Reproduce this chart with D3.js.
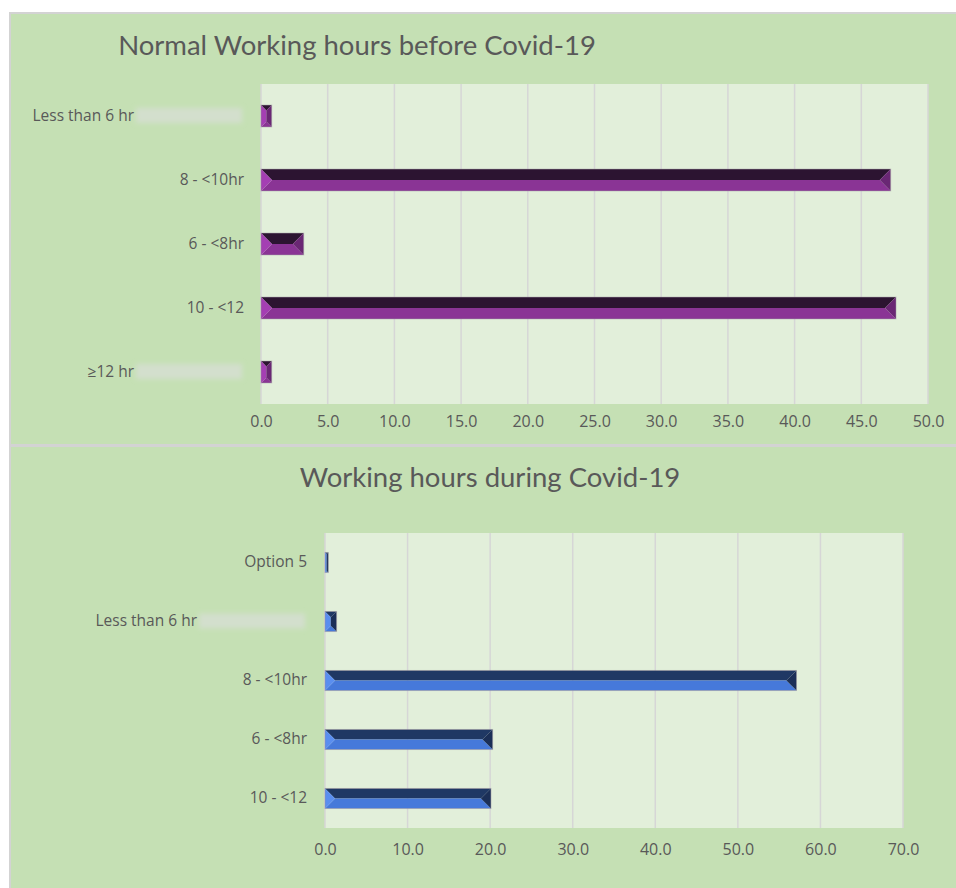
<!DOCTYPE html>
<html>
<head>
<meta charset="utf-8">
<script src="https://cdn.jsdelivr.net/npm/d3@7"></script>
<style>
  body { margin: 0; background: #fff; }
  text { font-family: Lato, "Open Sans", sans-serif; }
  .tick text { font-family: "Open Sans", sans-serif; }
</style>
</head>
<body>
<div id="target"></div>
<script>
// data (percent of respondents)
const beforeCats = ["Less than 6 hr", "8 - <10hr", "6 - <8hr", "10 - <12", "≥12 hr"];
const beforeVals = [0.8, 47.2, 3.2, 47.6, 0.8];
const beforeTicks = [0, 5, 10, 15, 20, 25, 30, 35, 40, 45, 50];

const duringCats = ["Option 5", "Less than 6 hr", "8 - <10hr", "6 - <8hr", "10 - <12"];
const duringVals = [0.4, 1.4, 57.1, 20.3, 20.1];
const duringTicks = [0, 10, 20, 30, 40, 50, 60, 70];

// labels that were partly blurred out in the original
const blurred = ["Less than 6 hr", "≥12 hr"];

var width = 956,
  height = 888;

var svg = d3.select("#target") // create the SVG
  .append("svg")
  .attr("width", width)
  .attr("height", height);

var defs = svg.append("defs");
defs.append("filter")
  .attr("id", "blur")
  .attr("x", "-20%").attr("y", "-50%")
  .attr("width", "140%").attr("height", "200%")
  .append("feGaussianBlur")
  .attr("stdDeviation", 2.5);

svg.append("rect") // white page
  .attr("width", width)
  .attr("height", height)
  .attr("fill", "#fff");

const purple = { top: "#2c1431", bottom: "#8a3495", left: "#a43fb3", right: "#6a2774" };
const blue = { top: "#1f3864", bottom: "#4679da", left: "#5a8eef", right: "#1b2f57" };

function drawChart(opt) {
  var g = svg.append("g");

  g.append("rect") // panel background
    .attr("x", opt.panel[0])
    .attr("y", opt.panel[1])
    .attr("width", opt.panel[2])
    .attr("height", opt.panel[3])
    .attr("fill", "#c5e0b4")
    .attr("stroke", "#d3d3d3")
    .attr("stroke-width", 2);

  g.append("text") // title
    .attr("x", opt.titleX)
    .attr("y", opt.titleY)
    .attr("text-anchor", "middle")
    .attr("font-size", 27.5)
    .attr("fill", "#595959")
    .text(opt.title);

  var x = d3.scaleLinear()
    .domain([0, d3.max(opt.ticks)])
    .range([opt.left, opt.right]);

  var y = d3.scaleBand()
    .domain(opt.cats)
    .range([opt.top, opt.bottom])
    .paddingInner(0.66)
    .paddingOuter(0.33);

  g.append("rect") // plot area
    .attr("x", opt.left)
    .attr("y", opt.top)
    .attr("width", opt.right - opt.left)
    .attr("height", opt.bottom - opt.top)
    .attr("fill", "#e2efda");

  g.append("g") // grid lines
    .selectAll("line")
    .data(opt.ticks)
    .enter()
    .append("line")
    .attr("x1", d => x(d))
    .attr("x2", d => x(d))
    .attr("y1", opt.top)
    .attr("y2", opt.bottom)
    .attr("stroke", "#d6d6d6")
    .attr("stroke-width", 1.5);

  var xAxis = g.append("g") // X axis
    .attr("transform", `translate(0,${opt.bottom})`)
    .call(d3.axisBottom(x).tickValues(opt.ticks).tickFormat(d3.format(".1f")).tickSize(0).tickPadding(opt.tickPad));
  xAxis.select(".domain").remove();
  xAxis.selectAll("text")
    .attr("font-size", 16)
    .attr("fill", "#595959");

  var yAxis = g.append("g") // Y axis
    .attr("transform", `translate(${opt.labelX},0)`)
    .call(d3.axisLeft(y).tickSize(0).tickPadding(0));
  yAxis.select(".domain").remove();
  yAxis.selectAll(".tick").each(function(d) {
    var t = d3.select(this).select("text")
      .attr("font-size", 15.5)
      .attr("fill", "#595959");
    if (blurred.includes(d)) {
      d3.select(this).insert("rect", "text")
        .attr("x", -108)
        .attr("y", -8)
        .attr("width", 106)
        .attr("height", 15)
        .attr("fill", "#d3dfcd")
        .attr("filter", "url(#blur)");
      t.attr("x", -110);
    }
  });

  var col = opt.colors;
  var bars = g.selectAll(".bar") // insert bevelled bars
    .data(opt.vals)
    .enter()
    .append("g")
    .attr("class", "bar")
    .attr("transform", (d, i) => `translate(${x(0)},${y(opt.cats[i])})`);

  bars.each(function(d) {
    var w = x(d) - x(0),
      h = y.bandwidth(),
      b = Math.min(h / 2, w / 2),
      bar = d3.select(this);
    var facets = [
      [[0, 0], [w, 0], [w - b, b], [b, b], col.top],
      [[0, h], [w, h], [w - b, h - b], [b, h - b], col.bottom],
      [[0, 0], [b, b], [b, h - b], [0, h], col.left],
      [[w, 0], [w - b, b], [w - b, h - b], [w, h], col.right]
    ];
    // flat middle band
    bar.append("rect")
      .attr("x", b).attr("y", b)
      .attr("width", Math.max(0, w - 2 * b))
      .attr("height", Math.max(0, h - 2 * b))
      .attr("fill", col.bottom);
    facets.forEach(f => {
      bar.append("path")
        .attr("d", "M" + f.slice(0, 4).map(p => p.join(",")).join("L") + "Z")
        .attr("fill", f[4]);
    });
    bar.append("rect")
      .attr("width", w)
      .attr("height", h)
      .attr("fill", "none")
      .attr("stroke", "#9c939d")
      .attr("stroke-opacity", 0.5)
      .attr("stroke-width", 1);
  });
}

drawChart({
  panel: [10, 13, 950, 432],
  title: "Normal Working hours before Covid-19",
  titleX: 357, titleY: 55,
  cats: beforeCats, vals: beforeVals, ticks: beforeTicks,
  left: 261, right: 928, top: 84, bottom: 404,
  labelX: 244, tickPad: 12,
  colors: purple
});

drawChart({
  panel: [10, 446, 950, 446],
  title: "Working hours during Covid-19",
  titleX: 490, titleY: 487,
  cats: duringCats, vals: duringVals, ticks: duringTicks,
  left: 325, right: 903, top: 533, bottom: 828,
  labelX: 307, tickPad: 16,
  colors: blue
});
</script>
</body>
</html>
